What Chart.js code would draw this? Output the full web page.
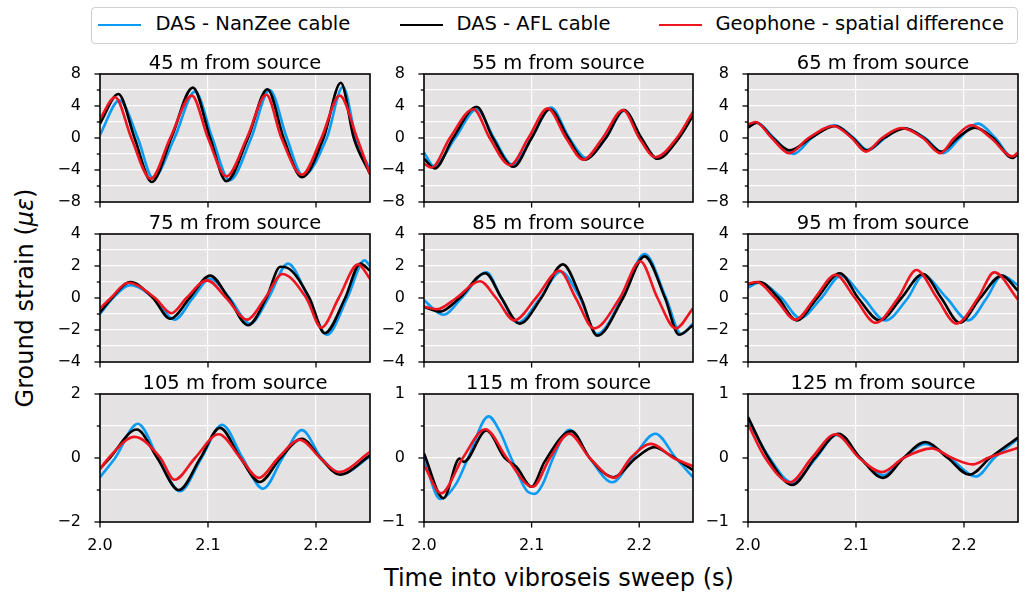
<!DOCTYPE html>
<html>
<head>
<meta charset="utf-8">
<script src="https://cdn.jsdelivr.net/npm/chart.js@4.4.0/dist/chart.umd.min.js"></script>
<style>
body{margin:0;background:#fff;width:1030px;height:596px;position:relative;overflow:hidden;font-family:'DejaVu Sans',sans-serif;color:#000}
canvas{position:absolute}
#legend{position:absolute;left:91px;top:7px;width:925px;height:35px;border:1.5px solid #cfcfcf;border-radius:4px;background:#fff}
.sw{position:absolute;top:15.5px;width:43px;height:2.6px}
.lt{position:absolute;top:4px;font-size:19.5px;line-height:24px;white-space:nowrap}
#xlabel{position:absolute;left:100px;width:918px;top:564px;text-align:center;font-size:24px;line-height:28px}
#ylabel{position:absolute;left:25px;top:298px;transform:translate(-50%,-50%) rotate(-90deg);font-size:24px;line-height:28px;white-space:nowrap}
</style>
</head>
<body>
<div id="legend">
  <span class="sw" style="left:5.5px;background:#0a9cf5"></span><span class="lt" style="left:63.5px">DAS - NanZee cable</span>
  <span class="sw" style="left:307.5px;background:#000"></span><span class="lt" style="left:364.5px">DAS - AFL cable</span>
  <span class="sw" style="left:566.5px;background:#ee1520"></span><span class="lt" style="left:623.5px">Geophone - spatial difference</span>
</div>
<div id="ylabel">Ground strain (<i>με</i>)</div>
<div id="xlabel">Time into vibroseis sweep (s)</div>
<script>
// distances of the nine traces (m from source)
const distances = [45, 55, 65, 75, 85, 95, 105, 115, 125];
const xTicks = [2.0, 2.1, 2.2];

// [time (s), strain]
const nanzee45 = [[2.0,0.4],[2.018,4.7],[2.035,0],[2.049,-5.0],[2.069,0],[2.088,5.8],[2.104,0],[2.120,-5.3],[2.140,0],[2.157,6.0],[2.173,0],[2.188,-4.7],[2.210,0],[2.225,6.4],[2.237,0],[2.25,-4.0]];
const afl45 = [[2.0,1.8],[2.017,5.5],[2.032,0],[2.048,-5.5],[2.066,0],[2.086,6.3],[2.102,0],[2.117,-5.4],[2.137,0],[2.155,6.1],[2.170,0],[2.187,-4.9],[2.207,0],[2.223,6.9],[2.235,0],[2.25,-4.5]];
const geophone45 = [[2.0,2.4],[2.014,5.1],[2.029,0],[2.047,-5.1],[2.065,0],[2.085,5.3],[2.100,0],[2.117,-4.8],[2.136,0],[2.154,5.4],[2.168,0],[2.187,-4.6],[2.205,0],[2.222,5.3],[2.238,0],[2.25,-4.5]];

const nanzee55 = [[2.0,-1.8],[2.009,-3.5],[2.029,0],[2.049,3.6],[2.065,0],[2.082,-3.3],[2.100,0],[2.118,3.8],[2.135,0],[2.151,-2.5],[2.169,0],[2.186,3.4],[2.202,0],[2.215,-2.4],[2.236,0],[2.25,3.0]];
const afl55 = [[2.0,-2.6],[2.010,-3.8],[2.027,0],[2.049,3.9],[2.064,0],[2.083,-3.6],[2.100,0],[2.117,3.6],[2.134,0],[2.149,-2.7],[2.169,0],[2.186,3.5],[2.202,0],[2.217,-2.6],[2.237,0],[2.25,2.8]];
const geophone55 = [[2.0,-3.2],[2.007,-3.7],[2.024,0],[2.046,3.6],[2.061,0],[2.080,-3.4],[2.097,0],[2.115,3.7],[2.132,0],[2.148,-2.7],[2.166,0],[2.185,3.5],[2.200,0],[2.215,-2.4],[2.235,0],[2.25,3.3]];

const nanzee65 = [[2.0,1.5],[2.008,1.9],[2.024,0],[2.042,-2.0],[2.059,0],[2.080,1.6],[2.098,0],[2.111,-1.55],[2.127,0],[2.144,1.25],[2.164,0],[2.181,-1.9],[2.196,0],[2.213,1.8],[2.229,0],[2.245,-2.4],[2.25,-2.0]];
const afl65 = [[2.0,1.3],[2.008,1.9],[2.023,0],[2.039,-1.55],[2.058,0],[2.081,1.5],[2.097,0],[2.110,-1.55],[2.126,0],[2.145,1.2],[2.163,0],[2.179,-1.7],[2.194,0],[2.210,1.3],[2.227,0],[2.245,-2.5],[2.25,-2.0]];
const geophone65 = [[2.0,1.7],[2.007,2.0],[2.022,0],[2.038,-1.9],[2.056,0],[2.079,1.5],[2.096,0],[2.109,-1.7],[2.124,0],[2.142,1.25],[2.162,0],[2.178,-1.9],[2.191,0],[2.207,1.6],[2.225,0],[2.245,-2.3],[2.25,-1.8]];

const nanzee75 = [[2.0,-1.0],[2.012,0],[2.028,0.8],[2.050,0],[2.069,-1.35],[2.086,0],[2.102,1.2],[2.120,0],[2.139,-1.6],[2.156,0],[2.174,2.15],[2.193,0],[2.210,-2.3],[2.229,0],[2.245,2.35],[2.25,2.0]];
const afl75 = [[2.0,-0.9],[2.011,0],[2.028,1.0],[2.049,0],[2.065,-1.3],[2.083,0],[2.102,1.4],[2.119,0],[2.137,-1.7],[2.154,0],[2.167,1.95],[2.173,1.9],[2.194,0],[2.208,-2.2],[2.227,0],[2.241,2.15],[2.25,1.7]];
const geophone75 = [[2.0,-0.65],[2.010,0],[2.026,0.95],[2.051,0],[2.066,-0.95],[2.080,0],[2.099,1.1],[2.117,0],[2.136,-1.35],[2.153,0],[2.169,1.5],[2.191,0],[2.205,-1.85],[2.221,0],[2.239,2.1],[2.25,1.2]];

const nanzee85 = [[2.0,-0.15],[2.018,-1.05],[2.035,0],[2.058,1.6],[2.072,0],[2.087,-1.55],[2.108,0],[2.127,1.65],[2.145,0],[2.161,-2.25],[2.184,0],[2.205,2.75],[2.225,0],[2.239,-2.25],[2.25,-1.6]];
const afl85 = [[2.0,-0.55],[2.015,-0.85],[2.033,0],[2.057,1.55],[2.072,0],[2.089,-1.6],[2.109,0],[2.129,2.1],[2.146,0],[2.161,-2.35],[2.185,0],[2.205,2.6],[2.224,0],[2.237,-2.3],[2.25,-1.7]];
const geophone85 = [[2.0,-0.55],[2.012,-0.7],[2.030,0],[2.052,1.05],[2.067,0],[2.084,-1.4],[2.104,0],[2.126,1.7],[2.141,0],[2.158,-1.9],[2.182,0],[2.201,2.3],[2.217,0],[2.234,-1.9],[2.25,-0.65]];

const nanzee95 = [[2.0,0.65],[2.010,0.95],[2.031,0],[2.048,-1.25],[2.068,0],[2.086,1.4],[2.107,0],[2.127,-1.4],[2.148,0],[2.162,1.4],[2.184,0],[2.204,-1.4],[2.221,0],[2.235,1.4],[2.25,0.8]];
const afl95 = [[2.0,0.85],[2.011,1.0],[2.028,0],[2.045,-1.4],[2.064,0],[2.085,1.55],[2.102,0],[2.122,-1.4],[2.142,0],[2.162,1.5],[2.179,0],[2.196,-1.55],[2.215,0],[2.235,1.4],[2.25,0.45]];
const geophone95 = [[2.0,0.9],[2.008,1.0],[2.025,0],[2.044,-1.35],[2.062,0],[2.081,1.45],[2.099,0],[2.118,-1.55],[2.139,0],[2.156,1.75],[2.175,0],[2.193,-1.6],[2.213,0],[2.228,1.6],[2.25,-0.1]];

const nanzee105 = [[2.0,-0.6],[2.014,0],[2.035,1.07],[2.054,0],[2.074,-1.04],[2.094,0],[2.113,1.04],[2.132,0],[2.151,-0.96],[2.169,0],[2.187,0.87],[2.205,0],[2.224,-0.49],[2.25,0.05]];
const afl105 = [[2.0,-0.33],[2.009,0],[2.034,0.89],[2.053,0],[2.073,-1.0],[2.093,0],[2.111,0.94],[2.130,0],[2.148,-0.75],[2.167,0],[2.187,0.6],[2.204,0],[2.222,-0.52],[2.25,0.08]];
const geophone105 = [[2.0,-0.35],[2.008,0],[2.032,0.66],[2.056,0],[2.069,-0.68],[2.088,0],[2.110,0.74],[2.130,0],[2.147,-0.62],[2.165,0],[2.185,0.57],[2.204,0],[2.221,-0.44],[2.25,0.19]];

const nanzee115 = [[2.0,-0.01],[2.015,-0.64],[2.030,-0.4],[2.041,0],[2.060,0.65],[2.070,0.43],[2.081,0],[2.095,-0.5],[2.103,-0.56],[2.110,-0.42],[2.120,0],[2.135,0.44],[2.154,0],[2.175,-0.38],[2.194,0],[2.215,0.38],[2.234,0],[2.25,-0.3]];
const afl115 = [[2.0,0.07],[2.018,-0.63],[2.033,-0.01],[2.037,-0.06],[2.058,0.43],[2.075,0],[2.086,-0.14],[2.100,-0.45],[2.112,-0.06],[2.137,0.42],[2.154,0],[2.176,-0.3],[2.197,0],[2.214,0.17],[2.229,0.04],[2.25,-0.19]];
const geophone115 = [[2.0,-0.11],[2.016,-0.55],[2.036,0],[2.057,0.45],[2.077,0],[2.101,-0.45],[2.117,0],[2.135,0.38],[2.154,0],[2.177,-0.31],[2.192,0],[2.211,0.22],[2.232,0],[2.25,-0.13]];

const nanzee125 = [[2.0,0.59],[2.020,0],[2.041,-0.38],[2.063,0],[2.082,0.36],[2.104,0],[2.125,-0.27],[2.144,0],[2.164,0.22],[2.187,0],[2.211,-0.29],[2.228,0],[2.25,0.3]];
const afl125 = [[2.0,0.64],[2.019,0],[2.041,-0.42],[2.062,0],[2.084,0.38],[2.104,0],[2.125,-0.31],[2.144,0],[2.164,0.25],[2.185,0],[2.205,-0.26],[2.224,0],[2.25,0.32]];
const geophone125 = [[2.0,0.53],[2.016,0],[2.039,-0.38],[2.059,0],[2.081,0.37],[2.103,0],[2.124,-0.22],[2.144,0],[2.170,0.15],[2.189,0],[2.208,-0.1],[2.222,0],[2.25,0.16]];

// y limits, minor tick step, labelled tick step for each panel
const yLimits = [8, 8, 8, 4, 4, 4, 2, 1, 1];
const yMinorSteps = [2, 2, 2, 1, 1, 1, 1, 0.5, 0.5];
const yMajorSteps = [4, 4, 4, 2, 2, 2, 2, 1, 1];

const nanzee = [nanzee45, nanzee55, nanzee65, nanzee75, nanzee85, nanzee95, nanzee105, nanzee115, nanzee125];
const afl = [afl45, afl55, afl65, afl75, afl85, afl95, afl105, afl115, afl125];
const geophone = [geophone45, geophone55, geophone65, geophone75, geophone85, geophone95, geophone105, geophone115, geophone125];

const BLUE = '#0a9cf5', RED = '#ee1520';
Chart.defaults.font.family = "'DejaVu Sans', sans-serif";
Chart.defaults.font.size = 16;
Chart.defaults.color = '#000';

const colLeft = [100, 424, 748], colWidth = [270, 269, 270];
const rowTop = [74, 234, 394], rowHeight = 128;
const PL = 50, PT = 30, PR = 8;

function isMajor(v, step){ return Math.abs(v/step - Math.round(v/step)) < 1e-6; }
function fmt(v){ return String(+v.toFixed(2)).replace('-', '\u2212'); }

// gray face, spines, outside tick marks and panel title
const frame = {
  id: 'frame',
  beforeDraw(chart){
    const a = chart.chartArea, ctx = chart.ctx;
    ctx.save();
    ctx.fillStyle = '#e4e2e2';
    ctx.fillRect(a.left, a.top, a.right - a.left, a.bottom - a.top);
    ctx.restore();
  },
  afterDraw(chart, args, opts){
    const a = chart.chartArea, ctx = chart.ctx;
    ctx.save();
    ctx.strokeStyle = '#000';
    ctx.lineWidth = 1.3;
    chart.scales.y.ticks.forEach(t => {
      const y = chart.scales.y.getPixelForValue(t.value);
      const len = isMajor(t.value, opts.major) ? 5.6 : 3.2;
      ctx.beginPath(); ctx.moveTo(a.left - len, y); ctx.lineTo(a.left, y); ctx.stroke();
    });
    chart.scales.x.ticks.forEach(t => {
      const x = chart.scales.x.getPixelForValue(t.value);
      ctx.beginPath(); ctx.moveTo(x, a.bottom); ctx.lineTo(x, a.bottom + 5.6); ctx.stroke();
    });
    ctx.lineWidth = 1.6;
    ctx.strokeRect(a.left, a.top, a.right - a.left, a.bottom - a.top);
    ctx.fillStyle = '#000';
    ctx.font = "19.5px 'DejaVu Sans'";
    ctx.textAlign = 'center';
    ctx.textBaseline = 'alphabetic';
    ctx.fillText(opts.title, (a.left + a.right) / 2, a.top - 5);
    ctx.restore();
  }
};

const toXY = arr => arr.map(p => ({x: p[0], y: p[1]}));

distances.forEach((d, i) => {
  const col = i % 3, row = Math.floor(i / 3);
  const bottomRoom = row === 2 ? 40 : 10;
  const w = colWidth[col] + PL + PR, h = rowHeight + PT + bottomRoom;
  const cv = document.createElement('canvas');
  cv.width = w; cv.height = h;
  cv.style.left = (colLeft[col] - PL) + 'px';
  cv.style.top = (rowTop[row] - PT) + 'px';
  cv.style.width = w + 'px'; cv.style.height = h + 'px';
  document.body.appendChild(cv);

  const lim = yLimits[i], minor = yMinorSteps[i], major = yMajorSteps[i];
  const yTicks = [];
  for (let k = -Math.round(lim / minor); k <= Math.round(lim / minor); k++) yTicks.push(k * minor);

  new Chart(cv, {
    type: 'line',
    data: {
      datasets: [
        {label: 'DAS - NanZee cable', data: toXY(nanzee[i]), borderColor: BLUE, order: 2},
        {label: 'DAS - AFL cable', data: toXY(afl[i]), borderColor: '#000', order: 1},
        {label: 'Geophone - spatial difference', data: toXY(geophone[i]), borderColor: RED, order: 0}
      ]
    },
    options: {
      responsive: false,
      animation: false,
      devicePixelRatio: 1,
      elements: {
        point: {radius: 0},
        line: {borderWidth: 2.6, cubicInterpolationMode: 'monotone', fill: false}
      },
      layout: {padding: {top: PT, right: PR, left: 0, bottom: 0}},
      scales: {
        x: {
          type: 'linear', min: 2.0, max: 2.25,
          afterBuildTicks: s => { s.ticks = xTicks.map(v => ({value: v})); },
          afterFit: s => { s.height = bottomRoom; s.paddingLeft = 0; s.paddingRight = 0; s.paddingTop = 0; s.paddingBottom = 0; },
          grid: {color: '#ffffff', lineWidth: 1.2, drawTicks: false},
          border: {display: false},
          ticks: {display: row === 2, padding: 14, maxRotation: 0, autoSkip: false,
                  callback: v => v.toFixed(1)}
        },
        y: {
          type: 'linear', min: -lim, max: lim,
          afterBuildTicks: s => { s.ticks = yTicks.map(v => ({value: v})); },
          afterFit: s => { s.width = PL; s.paddingTop = 0; s.paddingBottom = 0; s.paddingLeft = 0; s.paddingRight = 0; },
          grid: {color: '#ffffff', lineWidth: 1.2, drawTicks: false},
          border: {display: false},
          ticks: {padding: 19, autoSkip: false,
                  callback: v => isMajor(v, major) ? fmt(v) : ''}
        }
      },
      plugins: {
        legend: {display: false},
        tooltip: {enabled: false},
        frame: {title: d + ' m from source', major: major}
      }
    },
    plugins: [frame]
  });
});
</script>
</body>
</html>
